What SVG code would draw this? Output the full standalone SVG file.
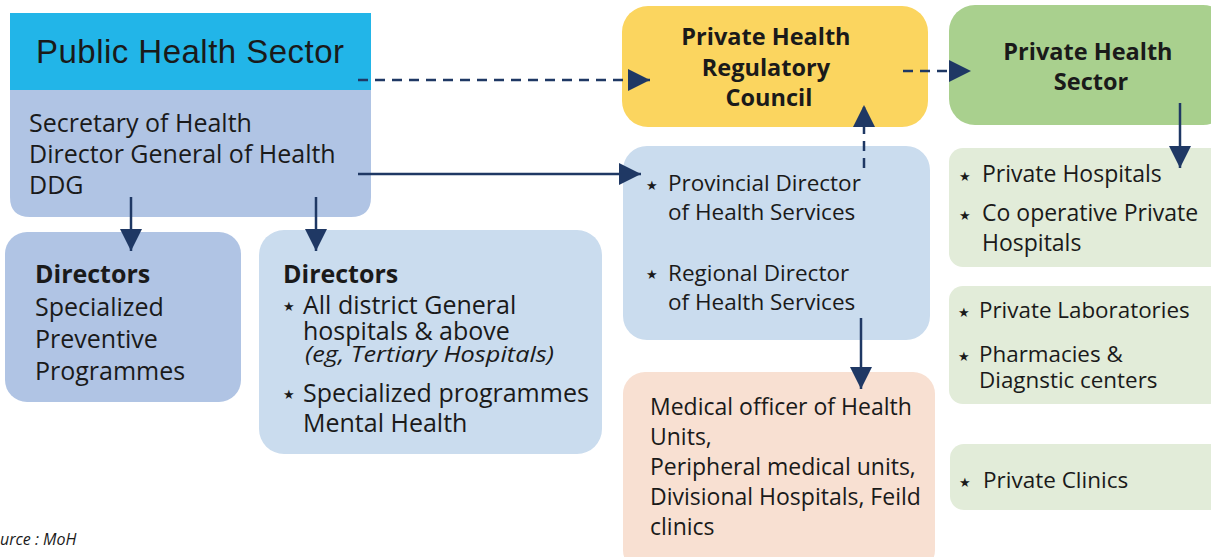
<svg xmlns="http://www.w3.org/2000/svg" width="1211" height="557" viewBox="0 0 1211 557">
  <style>
    .t { font-family: "Open Sans", "Noto Sans", sans-serif; fill: #1a1a1a; }
    .b { font-weight: bold; }
    .line { stroke: #1f3864; stroke-width: 2.5; fill: none; }
    .dash { stroke-dasharray: 10 7; }
    .star { font-family: "DejaVu Sans", sans-serif; font-size: 13px; fill: #1a1a1a; }
  </style>
  <defs>
    <marker id="head" markerUnits="userSpaceOnUse" markerWidth="24" markerHeight="24" viewBox="0 0 24 24" refX="22" refY="12" orient="auto">
      <path d="M0,1 L22,12 L0,23 Z" fill="#1f3864"/>
    </marker>
  </defs>

  <rect width="1211" height="557" fill="#ffffff"/>

  <!-- Public Health Sector -->
  <g id="public-health-sector">
    <path d="M10,13 H371 V197 Q371,217 351,217 H30 Q10,217 10,197 Z" fill="#b0c4e4"/>
    <rect x="10" y="13" width="361" height="77" fill="#22b5e8"/>
    <text x="36" y="63" font-family="Liberation Sans, Arial, sans-serif" font-size="33" textLength="308" fill="#1a1a1a">Public Health Sector</text>
    <text class="t" font-size="25">
      <tspan x="29" y="132">Secretary of Health</tspan>
      <tspan x="29" y="163">Director General of Health</tspan>
      <tspan x="29" y="194">DDG</tspan>
    </text>
  </g>

  <!-- Directors: preventive programmes -->
  <g id="directors-preventive">
    <rect x="5" y="232" width="236" height="170" rx="22" fill="#b0c4e4"/>
    <text class="t" font-size="25">
      <tspan x="35" y="283" class="b">Directors</tspan>
      <tspan x="35" y="316">Specialized</tspan>
      <tspan x="35" y="348">Preventive</tspan>
      <tspan x="35" y="380">Programmes</tspan>
    </text>
  </g>

  <!-- Directors: hospitals -->
  <g id="directors-hospitals">
    <rect x="259" y="230" width="343" height="224" rx="25" fill="#cadcee"/>
    <text class="t b" x="283" y="283" font-size="25">Directors</text>
    <text class="star" x="283" y="311">★</text>
    <text class="t" font-size="25">
      <tspan x="303" y="314">All district General</tspan>
      <tspan x="303" y="340">hospitals &amp; above</tspan>
    </text>
    <text class="t" x="305" y="362" font-size="22" font-style="italic" textLength="249" lengthAdjust="spacingAndGlyphs">(eg, Tertiary Hospitals)</text>
    <text class="star" x="283" y="399">★</text>
    <text class="t" font-size="25">
      <tspan x="303" y="402">Specialized programmes</tspan>
      <tspan x="303" y="432">Mental Health</tspan>
    </text>
  </g>

  <text class="t" x="0" y="545" font-size="16" font-style="italic">urce : MoH</text>

  <!-- Private Health Regulatory Council -->
  <g id="regulatory-council">
    <rect x="622" y="6" width="306" height="121" rx="26" fill="#fbd55f"/>
    <text class="t b" font-size="23.5" text-anchor="middle">
      <tspan x="769" y="45">Private Health</tspan>
      <tspan x="769" y="76">Regulatory</tspan>
      <tspan x="769" y="106">Council</tspan>
    </text>
  </g>

  <!-- Private Health Sector -->
  <g id="private-health-sector">
    <rect x="949" y="5" width="280" height="120" rx="26" fill="#a9d08e"/>
    <text class="t b" font-size="23.5" text-anchor="middle">
      <tspan x="1091" y="60">Private Health</tspan>
      <tspan x="1091" y="90">Sector</tspan>
    </text>
  </g>

  <!-- Provincial / Regional directors -->
  <g id="provincial-regional">
    <rect x="623" y="146" width="307" height="194" rx="24" fill="#cadcee"/>
    <text class="star" x="646" y="190">★</text>
    <text class="t" font-size="22.5">
      <tspan x="668" y="191">Provincial Director</tspan>
      <tspan x="668" y="220">of Health Services</tspan>
    </text>
    <text class="star" x="646" y="279">★</text>
    <text class="t" font-size="22.5">
      <tspan x="668" y="281">Regional Director</tspan>
      <tspan x="668" y="310">of Health Services</tspan>
    </text>
  </g>

  <!-- Medical officer units -->
  <g id="medical-officer-units">
    <rect x="623" y="372" width="312" height="200" rx="22" fill="#f8e0d2"/>
    <text class="t" font-size="23">
      <tspan x="650" y="415">Medical officer of Health</tspan>
      <tspan x="650" y="445">Units,</tspan>
      <tspan x="650" y="475">Peripheral medical units,</tspan>
      <tspan x="650" y="505">Divisional Hospitals, Feild</tspan>
      <tspan x="650" y="535">clinics</tspan>
    </text>
  </g>

  <!-- Private hospitals -->
  <g id="private-hospitals">
    <rect x="949" y="148" width="280" height="119" rx="14" fill="#e2ecd9"/>
    <text class="star" x="959" y="181">★</text>
    <text class="star" x="959" y="220">★</text>
    <text class="t" font-size="23">
      <tspan x="982" y="182">Private Hospitals</tspan>
      <tspan x="982" y="221">Co operative Private</tspan>
      <tspan x="982" y="251">Hospitals</tspan>
    </text>
  </g>

  <!-- Laboratories and pharmacies -->
  <g id="private-laboratories">
    <rect x="949" y="286" width="280" height="118" rx="14" fill="#e2ecd9"/>
    <text class="star" x="958" y="317">★</text>
    <text class="star" x="958" y="361">★</text>
    <text class="t" font-size="22.4">
      <tspan x="979" y="318">Private Laboratories</tspan>
      <tspan x="979" y="362">Pharmacies &amp;</tspan>
      <tspan x="979" y="388">Diagnstic centers</tspan>
    </text>
  </g>

  <!-- Clinics -->
  <g id="private-clinics">
    <rect x="950" y="444" width="280" height="66" rx="14" fill="#e2ecd9"/>
    <text class="star" x="959" y="487">★</text>
    <text class="t" x="983" y="488" font-size="22.5">Private Clinics</text>
  </g>

  <!-- Connectors -->
  <g id="connectors">
    <line class="line dash" x1="358" y1="80" x2="650" y2="80" marker-end="url(#head)"/>
    <line class="line dash" x1="903" y1="71" x2="971" y2="71" marker-end="url(#head)"/>
    <line class="line" x1="358" y1="174" x2="641" y2="174" marker-end="url(#head)"/>
    <line class="line" x1="131" y1="197" x2="131" y2="251" marker-end="url(#head)"/>
    <line class="line" x1="316" y1="197" x2="316" y2="251" marker-end="url(#head)"/>
    <line class="line dash" x1="864" y1="168" x2="864" y2="105" marker-end="url(#head)"/>
    <line class="line" x1="861" y1="318" x2="861" y2="389" marker-end="url(#head)"/>
    <line class="line" x1="1180" y1="103" x2="1180" y2="168" marker-end="url(#head)"/>
  </g>
</svg>
